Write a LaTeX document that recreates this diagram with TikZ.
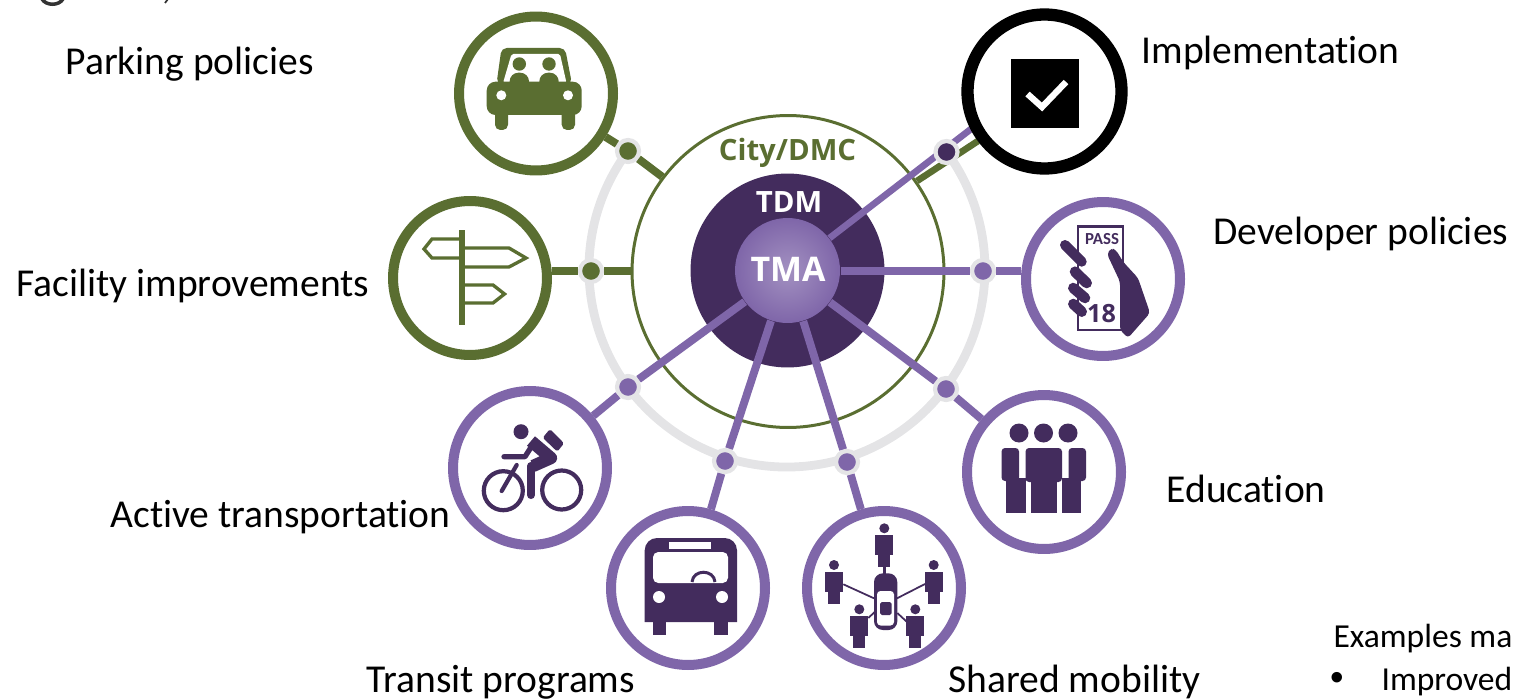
\documentclass[tikz,border=0pt]{standalone}
\usepackage{fontspec}
\setmainfont{Carlito}[Ligatures=NoCommon]
\newfontfamily\headfont{Open Sans}
\newfontfamily\dotfont{Liberation Sans}
\definecolor{leaf}{HTML}{5A6E31}
\definecolor{plum}{HTML}{7F66A9}
\definecolor{deep}{HTML}{432C5D}
\definecolor{halo}{HTML}{E4E4E6}
\begin{document}
\begin{tikzpicture}[
            x = 0.02cm, % one reference pixel
            y = -0.02cm, % pixels count downwards
            semithick % line style
        ]

        \tikzstyle{spot}=[
            circle,
            fill = white,
            line width = 5.7pt,
            minimum size = 3.08cm,
            inner sep = 0pt
        ]
        \tikzstyle{hub}=[
            circle,
            draw = halo,
            line width = 2.4pt,
            minimum size = 0.44cm,
            inner sep = 0pt
        ]
        \tikzstyle{spoke}=[line width = 4.5pt, plum]
        \tikzstyle{branch}=[line width = 4.5pt, leaf]
        \tikzstyle{tag}=[anchor = base west, inner sep = 0pt, font = \fontsize{22.5}{26}\selectfont]
        \tikzstyle{note}=[tag, font = \fontsize{19.1}{23}\selectfont]
        \tikzstyle{head}=[anchor = base, inner sep = 0pt, text = white, font = \headfont\bfseries\fontsize{16.7}{20}\selectfont]

        \useasboundingbox (0,0) rectangle (1513,699);
        \clip (0,0) rectangle (1513,699);

        % gray ring, open at the top
        \coordinate (ringstart) at (628,151);
        \draw[halo, line width = 5pt] (ringstart) arc (216.6:-37:198);

        \node[circle, draw = leaf, line width = 1.7pt, minimum size = 6.24cm] (city) at (788,271.5) {};
        \node[circle, fill = deep, minimum size = 3.88cm, inner sep = 0pt] (tdm) at (787.5,270.5) {};
        \node[circle, shading = radial, inner color = plum!72!white, outer color = plum, minimum size = 2.1cm, inner sep = 0pt] (tma) at (787.5,270.5) {};

        % the two lines to the check box run under its hub
        \coordinate (impa) at (917,181);
        \coordinate (impb) at (978,141);
        \coordinate (impc) at (971,129);
        \draw[branch, line width = 3.8pt] (impa) -- (impb);
        \draw[spoke, line width = 3.8pt] (tma) -- (impc);

        \node[hub, fill = leaf] (hpark) at (628,151) {};
        \node[hub, fill = leaf] (hfac) at (591,271) {};
        \node[hub, fill = deep] (himp) at (946.5,152) {};
        \node[hub, fill = plum] (hdev) at (983,271) {};
        \node[hub, fill = plum] (hact) at (628,387) {};
        \node[hub, fill = plum] (hbus) at (725,461) {};
        \node[hub, fill = plum] (hsha) at (847,462) {};
        \node[hub, fill = plum] (hedu) at (946,389) {};

        \node[spot, draw = leaf] (park) at (536,93.5) {};
        \node[spot, draw = leaf] (fac) at (470,278) {};
        \node[spot, draw = black, line width = 7pt] (imp) at (1044.5,91.5) {};
        \node[spot, draw = plum] (dev) at (1103,279) {};
        \node[spot, draw = plum] (act) at (530,468) {};
        \node[spot, draw = plum] (bus) at (688,588) {};
        \node[spot, draw = plum] (sha) at (884,588) {};
        \node[spot, draw = plum] (edu) at (1044,472) {};

        \draw[branch] (city) -- (hpark) -- (park);
        \draw[branch] (hfac -| city.west) -- (hfac) -- (hfac -| fac.east);
        \draw[spoke] (hdev -| tma.east) -- (hdev) -- (hdev -| dev.west);
        \draw[spoke] (tma) -- (hact) -- (act);
        \draw[spoke] (tma) -- (hbus) -- (bus);
        \draw[spoke] (tma) -- (hsha) -- (sha);
        \draw[spoke] (tma) -- (hedu) -- (edu);

        % centre texts
        \node[head, text = leaf] (tcity) at (787.5,161) {City/DMC};
        \node[head] (ttdm) at (789,212.5) {TDM};
        \node[head, font = \headfont\bfseries\fontsize{19.3}{23}\selectfont] (ttma) at (788,281.7) {TMA};

        % car
        \fill[leaf, rounded corners = 3pt] (496.5,84) -- (501.5,48) -- (565,48) -- (572,84) -- cycle;
        \fill[white, rounded corners = 1pt] (503,83) -- (511.5,54) -- (560,54) -- (566.5,83) -- cycle;
        \fill[leaf, rounded corners = 5pt] (486.7,115) -- (486.7,81.7) -- (581.7,81.7) -- (581.7,115) -- cycle;
        \fill[leaf, rounded corners = 3pt] (495,108) rectangle (508,130);
        \fill[leaf, rounded corners = 3pt] (561.7,108) rectangle (575,130);
        \foreach \hx in {519.3,549} {
            \fill[leaf] (\hx,64) circle (6.7);
            \fill[leaf, rounded corners = 5pt] (\hx-9.7,72.7) rectangle (\hx+9.7,92);
        }
        \fill[white] (501.3,95.3) circle (5);
        \fill[white] (568,95.3) circle (5);

        % signpost
        \draw[leaf, line width = 1.9pt] (460,239) -- (432,239) -- (424,249) -- (432,258) -- (460,258);
        \draw[leaf, line width = 1.9pt] (464,248) -- (509,248) -- (526,258) -- (509,267) -- (464,267);
        \draw[leaf, line width = 1.9pt] (464,285) -- (493,285) -- (504.5,294) -- (493,303) -- (464,303);
        \draw[leaf, line width = 3.8pt] (462,230) -- (462,325);

        % check box
        \fill[black] (1011,59) rectangle (1079,128);
        \draw[white, line width = 3.6pt] (1027.5,94) -- (1042,107) -- (1066,82);

        % pass in hand
        \draw[deep, line width = 1.5pt] (1078,226.7) rectangle (1123,330);
        \node[inner sep = 0pt, text = deep, font = \bfseries\fontsize{9.6}{11}\selectfont] (tpass) at (1102,239) {PASS};
        \node[inner sep = 0pt, text = deep, font = \headfont\bfseries\fontsize{14.3}{17}\selectfont] (tage) at (1101.5,314) {18};
        \fill[deep, rounded corners = 2pt] (1107,254) -- (1111,248) -- (1116,250) -- (1123,261.7) -- (1138,278) -- (1150,313) -- (1128,338) -- (1120,330) -- (1120,281.7) -- cycle;
        \draw[deep, line width = 5.7pt, line cap = round] (1065,245) -- (1081.7,261.7);
        \draw[deep, line width = 6pt, line cap = round] (1075,271.7) -- (1086.7,283);
        \draw[deep, line width = 6pt, line cap = round] (1073.3,288) -- (1085,298);
        \draw[deep, line width = 6pt, line cap = round] (1073.3,304) -- (1081.7,311.7);

        % cyclist
        \fill[deep] (521,431.7) circle (7.5);
        \fill[deep, rounded corners = 1pt] (550,429) -- (564,443.3) -- (557.3,451.7) -- (542.7,437.7) -- cycle;
        \draw[deep, line width = 2.4pt] (503.3,490.7) circle (19.5);
        \draw[deep, line width = 2.4pt] (561.7,490) circle (19.5);
        \draw[deep, line width = 3pt, line cap = round, line join = round] (504,456.7) -- (525,456.7) -- (535,441);
        \draw[deep, line width = 7pt, line join = round] (531,441) -- (551,458) -- (533,466);
        \draw[deep, line width = 4.6pt, line cap = round] (531,466) -- (531,495);
        \draw[deep, line width = 2.4pt, line cap = round] (516.7,465) -- (501.7,491);

        % bus
        \fill[deep] (644.7,622) [rounded corners = 7pt] -- (644.7,538) -- (737,538) [sharp corners] -- (737,622) -- cycle;
        \fill[deep] (652.5,620) rectangle (666,635);
        \fill[deep] (714,620) rectangle (728,635);
        \fill[white, rounded corners = 3pt] (653,583) -- (653,552) -- (728,552) -- (728,583) -- cycle;
        \fill[white] (668.5,542) rectangle (711,549);
        \draw[deep, line width = 1.7pt] (692,582) .. controls (693,569) and (714,569) .. (715,582);
        \fill[white] (659,597) circle (6);
        \fill[white] (722,597) circle (6);

        % shared car with riders
        \draw[deep, line width = 1pt] (843.3,584.3) -- (874,598.3);
        \draw[deep, line width = 1pt] (925,584) -- (897,598.3);
        \draw[deep, line width = 1pt] (868.3,618) -- (875,611.7);
        \draw[deep, line width = 1pt] (906.7,621.7) -- (897.3,613);
        \draw[deep, line width = 1.4pt] (884.5,566) -- (884.5,574);
        \foreach \hx/\hy in {884.3/528.3, 834/565, 933.7/565, 859.3/609.3, 915.3/609.3} {
            \fill[deep] (\hx,\hy) circle (5);
            \fill[deep] (\hx-9,\hy+6.5) rectangle (\hx+9,\hy+27);
            \fill[deep] (\hx-6,\hy+25) rectangle (\hx+6,\hy+38.5);
        }
        \fill[deep, rounded corners = 5pt] (874,573.3) rectangle (897.3,630);
        \fill[white, rounded corners = 2pt] (877,591) rectangle (894,625.5);
        \fill[deep, rounded corners = 1pt] (880,602) rectangle (891.5,615);

        % three people
        \foreach \hx in {1019,1043.5,1068} {
            \fill[deep] (\hx,433) circle (9.5);
        }
        \fill[deep, rounded corners = 2pt] (1001.5,481) -- (1001.5,448) -- (1019,448) -- (1019,481) -- cycle;
        \fill[deep] (1006,478) rectangle (1025.5,512.5);
        \fill[deep, rounded corners = 2pt] (1068.5,481) -- (1068.5,448) -- (1086,448) -- (1086,481) -- cycle;
        \fill[deep] (1061.5,478) rectangle (1081,512.5);
        \fill[white] (1027,476) rectangle (1029.8,513);
        \fill[white] (1057.5,476) rectangle (1060,513);
        \fill[deep, rounded corners = 2pt] (1025.5,482) -- (1025.5,448) -- (1062,448) -- (1062,482) -- cycle;
        \fill[deep] (1030.5,480) rectangle (1056.5,512.5);

        % labels
        \node[tag] (lpark) at (65,75) {Parking policies};
        \node[tag] (lfac) at (16,296) {Facility improvements};
        \node[tag] (limp) at (1141,64) {Implementation};
        \node[tag] (ldev) at (1213,244) {Developer policies};
        \node[tag] (ledu) at (1166,502) {Education};
        \node[tag] (lact) at (110,527) {Active transportation};
        \node[tag] (lbus) at (366,692) {Transit programs};
        \node[tag] (lsha) at (948,692) {Shared mobility};
        \node[note] (lexa) at (1333,647) {Examples ma};
        \node[note, font = \dotfont\fontsize{22}{26}\selectfont] (lbul) at (1330,690.5) {•};
        \node[note] (limpr) at (1381,690) {Improved};

        % cut off remains along the top edge
        \draw[black!80, line width = 2pt] (42,-1) .. controls (46,6) and (59,6) .. (63,-1);
        \draw[black!80, line width = 1pt] (168,-1) -- (165,3);
    \end{tikzpicture}
\end{document}
